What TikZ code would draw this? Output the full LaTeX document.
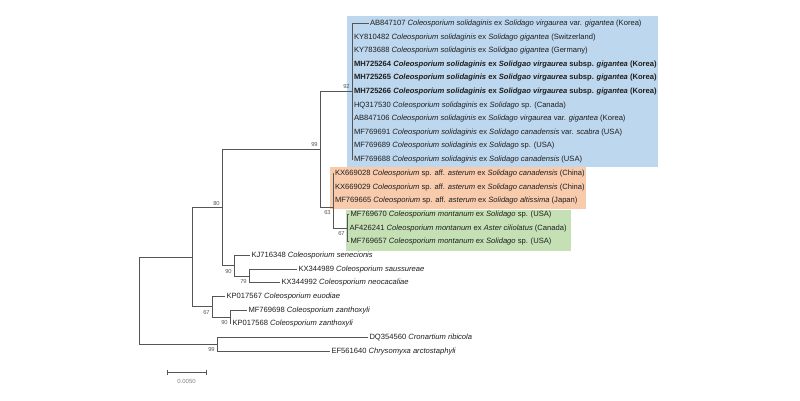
\documentclass[tikz,border=0pt]{standalone}
\usepackage{fontspec}
\setmainfont{Liberation Sans}
\definecolor{bluebg}{RGB}{189,215,238}
\definecolor{orangebg}{RGB}{248,203,173}
\definecolor{greenbg}{RGB}{197,224,180}
\definecolor{branchc}{RGB}{85,85,85}
\definecolor{tipc}{RGB}{30,30,30}
\tikzset{
  br/.style={draw=branchc, line width=0.9pt},
  tip/.style={anchor=west, inner xsep=1.3pt, inner ysep=0pt, text=tipc, font=\fontsize{7.6}{9}\selectfont},
  bsa/.style={anchor=south east, inner sep=0.6pt, text=branchc, font=\fontsize{5.8}{7}\selectfont},
  bsb/.style={anchor=north east, inner sep=0.6pt, text=branchc, font=\fontsize{5.8}{7}\selectfont},
}
\newcommand{\cs}{\textit{Coleosporium solidaginis}}
\begin{document}
\begin{tikzpicture}[x=1pt,y=-1pt]
\useasboundingbox (0,0) rectangle (800,400);
% coloured clade boxes
\fill[bluebg] (347,15.5) rectangle (658,166.5);
\fill[orangebg] (330,166.5) rectangle (586,208.5);
\fill[greenbg] (346,209.5) rectangle (571,250.5);

% internal nodes
\coordinate (root) at (139,257);
\coordinate (A) at (192,257);
\coordinate (B) at (222,207.5);
\coordinate (E) at (320,149);
\coordinate (BL) at (352,91);
\coordinate (F) at (333,207);
\coordinate (GR) at (347,228);
\coordinate (G) at (234,265.7);
\coordinate (H) at (249,276);
\coordinate (C) at (212,306.7);
\coordinate (D) at (230,317);
\coordinate (R2) at (217,344.2);

% tips
\node[tip] (t0) at (368.5,23.5) {AB847107 \cs{} ex \textit{Solidago virgaurea} var. \textit{gigantea} (Korea)};
\node[tip] (t1) at (352.5,37.1) {KY810482 \cs{} ex \textit{Solidago gigantea} (Switzerland)};
\node[tip] (t2) at (352.5,50.7) {KY783688 \cs{} ex \textit{Solidgao gigantea} (Germany)};
\node[tip,font=\fontsize{7.6}{9}\selectfont\bfseries] (t3) at (352.5,64.3) {MH725264 \cs{} ex \textit{Solidgao virgaurea} subsp. \textit{gigantea} (Korea)};
\node[tip,font=\fontsize{7.6}{9}\selectfont\bfseries] (t4) at (352.5,77.9) {MH725265 \cs{} ex \textit{Solidgao virgaurea} subsp. \textit{gigantea} (Korea)};
\node[tip,font=\fontsize{7.6}{9}\selectfont\bfseries] (t5) at (352.5,91.5) {MH725266 \cs{} ex \textit{Solidgao virgaurea} subsp. \textit{gigantea} (Korea)};
\node[tip] (t6) at (352.5,105.1) {HQ317530 \cs{} ex \textit{Solidago} sp. (Canada)};
\node[tip] (t7) at (352.5,118.7) {AB847106 \cs{} ex \textit{Solidago virgaurea} var. \textit{gigantea} (Korea)};
\node[tip] (t8) at (352.5,132.4) {MF769691 \cs{} ex \textit{Solidago canadensis} var. \textit{scabra} (USA)};
\node[tip] (t9) at (352.5,146.0) {MF769689 \cs{} ex \textit{Solidago} sp. (USA)};
\node[tip] (t10) at (352.5,159.7) {MF769688 \cs{} ex \textit{Solidago canadensis} (USA)};
\node[tip] (t11) at (333.5,173.37) {KX669028 \textit{Coleosporium} sp. aff. \textit{asterum} ex \textit{Solidago canadensis} (China)};
\node[tip] (t12) at (333.5,187.04) {KX669029 \textit{Coleosporium} sp. aff. \textit{asterum} ex \textit{Solidago canadensis} (China)};
\node[tip] (t13) at (333.5,200.71) {MF769665 \textit{Coleosporium} sp. aff. \textit{asterum} ex \textit{Solidago altissima} (Japan)};
\node[tip] (t14) at (349,214.38) {MF769670 \textit{Coleosporium montanum} ex \textit{Solidago} sp. (USA)};
\node[tip] (t15) at (348,228.05) {AF426241 \textit{Coleosporium montanum} ex \textit{Aster ciliolatus} (Canada)};
\node[tip] (t16) at (349,241.72) {MF769657 \textit{Coleosporium montanum} ex \textit{Solidago} sp. (USA)};
\node[tip] (t17) at (250,255.39) {KJ716348 \textit{Coleosporium senecionis}};
\node[tip] (t18) at (297,269.06) {KX344989 \textit{Coleosporium saussureae}};
\node[tip] (t19) at (280,282.73) {KX344992 \textit{Coleosporium neocacaliae}};
\node[tip] (t20) at (225,296.4) {KP017567 \textit{Coleosporium euodiae}};
\node[tip] (t21) at (247,310.07) {MF769698 \textit{Coleosporium zanthoxyli}};
\node[tip] (t22) at (231,323.74) {KP017568 \textit{Coleosporium zanthoxyli}};
\node[tip] (t23) at (368,337.41) {DQ354560 \textit{Cronartium ribicola}};
\node[tip] (t24) at (330,351.08) {EF561640 \textit{Chrysomyxa arctostaphyli}};

% branches
\draw[br] (root) |- (A);
\draw[br] (root) |- (R2);
\draw[br] (A) |- (B);
\draw[br] (A) |- (C);
\draw[br] (B) |- (E);
\draw[br] (B) |- (G);
\draw[br] (E) |- (BL);
\draw[br] (E) |- (F);
\foreach \t in {t0,t1,t2,t3,t4,t5,t6,t7,t8,t9,t10}{\draw[br] (BL) |- (\t.west);}
\foreach \t in {t11,t12,t13}{\draw[br] (F) |- (\t.west);}
\draw[br] (F) |- (GR);
\foreach \t in {t14,t15,t16}{\draw[br] (GR) |- (\t.west);}
\draw[br] (G) |- (t17.west);
\draw[br] (G) |- (H);
\draw[br] (H) |- (t18.west);
\draw[br] (H) |- (t19.west);
\draw[br] (C) |- (t20.west);
\draw[br] (C) |- (D);
\draw[br] (D) |- (t21.west);
\draw[br] (D) |- (t22.west);
\draw[br] (R2) |- (t23.west);
\draw[br] (R2) |- (t24.west);

% bootstrap values
\node[bsa] (b80) at ([xshift=-1.5pt,yshift=1.5pt]B) {80};
\node[bsa] (b99a) at ([xshift=-1.5pt,yshift=1.5pt]E) {99};
\node[bsa] (b92) at ([xshift=-1.5pt,yshift=1.5pt]BL) {92};
\node[bsb] (b63) at ([xshift=-1.5pt,yshift=-2.5pt]F) {63};
\node[bsb] (b67a) at ([xshift=-1.5pt,yshift=-3pt]GR) {67};
\node[bsb] (b90a) at ([xshift=-1.5pt,yshift=-2.5pt]G) {90};
\node[bsb] (b79) at ([xshift=-1.5pt,yshift=-2.5pt]H) {79};
\node[bsb] (b67b) at ([xshift=-1.5pt,yshift=-2.5pt]C) {67};
\node[bsb] (b90b) at ([xshift=-1.5pt,yshift=-2.5pt]D) {90};
\node[bsb] (b99b) at ([xshift=-1.5pt,yshift=-2.5pt]R2) {99};

% scale bar
\coordinate (s1) at (167,372);
\coordinate (s2) at (206,372);
\draw[draw=branchc, line width=0.7pt] (s1) -- (s2);
\draw[draw=branchc, line width=0.7pt] ([yshift=2.5pt]s1) -- ([yshift=-2.5pt]s1);
\draw[draw=branchc, line width=0.7pt] ([yshift=2.5pt]s2) -- ([yshift=-2.5pt]s2);
\node[text=gray, font=\fontsize{6}{7}\selectfont, inner sep=0pt] (sl) at (186.5,381) {0.0050};
\end{tikzpicture}
\end{document}
